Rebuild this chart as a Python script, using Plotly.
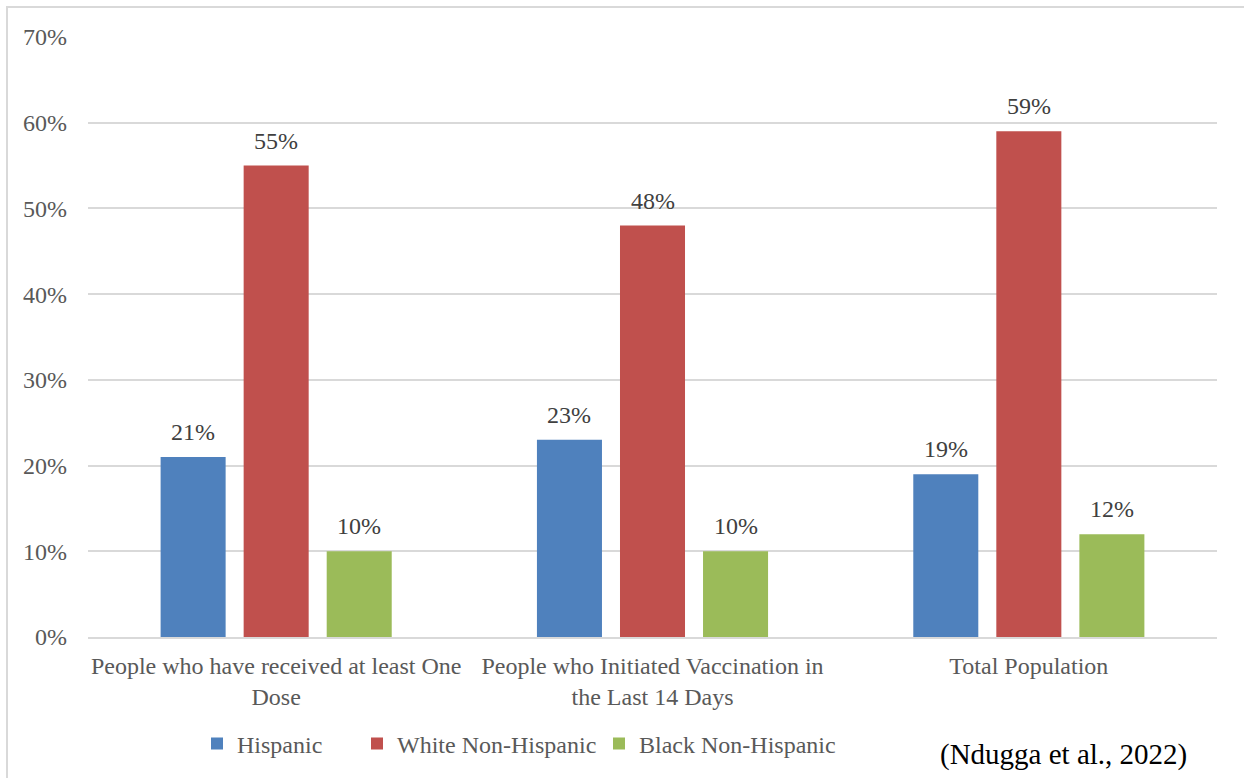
import plotly.graph_objects as go

categories = ["People who have received at least One<br>Dose",
              "People who Initiated Vaccination in<br>the Last 14 Days",
              "Total Population"]
series_names = ["Hispanic", "White Non-Hispanic", "Black Non-Hispanic"]
hispanic = [21, 23, 19]
white = [55, 48, 59]
black = [10, 10, 12]
colors = ["#4f81bd", "#c0504d", "#9bbb59"]
y_ticks = [0, 10, 20, 30, 40, 50, 60, 70]

FONT = "Liberation Serif"
FS = 24
W, H = 1244, 778
ML, MR, MT, MB = 88, 27, 37, 141
PW = W - ML - MR
PH = H - MT - MB

series = [hispanic, white, black]
bargap = 0.338
bargroupgap = 0.217
slot = (1 - bargap) / 3

fig = go.Figure()
legend_ids = ["legend", "legend2", "legend3"]
for k, (name, vals, col) in enumerate(zip(series_names, series, colors)):
    fig.add_trace(go.Bar(x=list(range(len(categories))), y=vals, name=name,
                         marker=dict(color=col, line=dict(width=0)),
                         legend=legend_ids[k]))
    for i, v in enumerate(vals):
        fig.add_annotation(x=i + (k - 1) * slot, y=v, xref="x", yref="y",
                           text=f"{v}%", showarrow=False, yanchor="bottom",
                           yshift=10, font=dict(family=FONT, size=FS, color="#404040"))

def px_to_paper_x(px):
    return (px - ML) / PW

def px_to_paper_y(py):
    return (H - MB - py) / PH

legend_x = [197, 357, 599]
legend_cfg = {}
for k, lid in enumerate(legend_ids):
    legend_cfg[lid] = dict(x=px_to_paper_x(legend_x[k]), y=px_to_paper_y(744),
                           xanchor="left", yanchor="middle", orientation="h",
                           itemwidth=30, bgcolor="rgba(0,0,0,0)",
                           font=dict(family=FONT, size=FS, color="#595959"))

fig.update_layout(
    width=W, height=H,
    margin=dict(l=ML, r=MR, t=MT, b=MB),
    paper_bgcolor="white", plot_bgcolor="white",
    barmode="group", bargap=bargap, bargroupgap=bargroupgap,
    font=dict(family=FONT, size=FS, color="#595959"),
    xaxis=dict(tickmode="array", tickvals=list(range(len(categories))),
               ticktext=categories, range=[-0.5, 2.5], showgrid=False,
               showline=True, linecolor="#d9d9d9", linewidth=2, ticks="",
               ticklabelstandoff=6,
               tickfont=dict(family=FONT, size=FS, color="#595959")),
    yaxis=dict(range=[0, 70], tickmode="array", tickvals=y_ticks,
               ticktext=[f"{t}%" for t in y_ticks],
               showgrid=True, gridcolor="#d9d9d9", gridwidth=2,
               zeroline=False, showline=False, ticks="",
               ticklabelstandoff=20,
               tickfont=dict(family=FONT, size=FS, color="#595959")),
    showlegend=True,
    **legend_cfg,
)

fig.add_annotation(x=px_to_paper_x(1063), y=px_to_paper_y(754), xref="paper", yref="paper",
                   text="(Ndugga et al., 2022)", showarrow=False,
                   xanchor="center", yanchor="middle",
                   font=dict(family=FONT, size=29, color="black"))

fig.add_shape(type="rect", xref="paper", yref="paper",
              x0=px_to_paper_x(7), x1=px_to_paper_x(1300),
              y0=px_to_paper_y(850), y1=px_to_paper_y(7),
              line=dict(color="#d9d9d9", width=2), fillcolor="rgba(0,0,0,0)", layer="below")

fig.write_html("out.html")
